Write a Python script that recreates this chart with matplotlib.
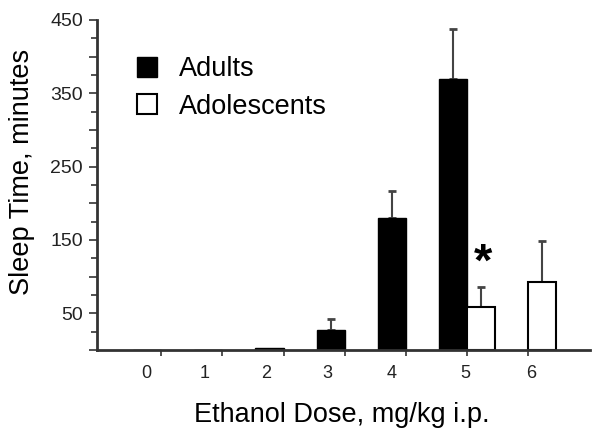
import numpy as np
import matplotlib
matplotlib.use("Agg")
import matplotlib.pyplot as plt
from matplotlib.ticker import MultipleLocator, FuncFormatter

plt.rcParams['font.family'] = ['Liberation Sans', 'DejaVu Sans']

# data
doses = [0, 1, 2, 3, 4, 5, 6]
adults = [0, 0, 3, 27, 180, 370, np.nan]
adults_err = [0, 0, 0, 15, 37, 68, 0]
adolescents = [np.nan, np.nan, np.nan, np.nan, np.nan, 59, 93]
adolescents_err = [0, 0, 0, 0, 0, 27, 56]
star_dose = 5
star_value = 118

# layout
bar_w = 0.46
label_shift = [-0.25, -0.29, -0.28, -0.28, -0.23, -0.03, 0.05]
axis_col = '#333333'

x = np.array(doses, dtype=float)
fig = plt.figure(figsize=(6.01, 4.38), dpi=100)
ax = fig.add_axes([97 / 601, 88 / 438, 493 / 601, 330 / 438])

ax.bar(x - bar_w / 2, adults, bar_w, color='black', edgecolor='black',
       linewidth=1, label='Adults', zorder=2)
ax.bar(x + bar_w / 2, adolescents, bar_w, color='white', edgecolor='black',
       linewidth=1.5, label='Adolescents', zorder=2)

a_err = np.array(adults_err, dtype=float)
b_err = np.array(adolescents_err, dtype=float)
ma = a_err > 0
mb = b_err > 0
ax.errorbar(x[ma] - bar_w / 2, np.array(adults)[ma],
            yerr=[np.zeros(ma.sum()), a_err[ma]], fmt='none',
            ecolor='#444444', elinewidth=1.5, capsize=3, capthick=2, zorder=1)
ax.errorbar(x[mb] + bar_w / 2, np.array(adolescents)[mb],
            yerr=[np.zeros(mb.sum()), b_err[mb]], fmt='none',
            ecolor='#444444', elinewidth=1.5, capsize=3, capthick=2, zorder=1)

ax.text(star_dose + bar_w / 2 + 0.03, star_value, '*', ha='center', va='center',
        fontsize=34, fontweight='bold', color='black')

ax.set_xlim(-1.05, 7.01)
ax.set_ylim(0, 450)

for s in ['top', 'right']:
    ax.spines[s].set_visible(False)
for s in ['left', 'bottom']:
    ax.spines[s].set_color(axis_col)
    ax.spines[s].set_linewidth(2)

# x: tick marks at doses, labels placed as in the reference
ax.set_xticks(doses)
ax.set_xticklabels([])
ax.tick_params(axis='x', which='major', direction='out', length=4, width=1.2,
               color=axis_col)
ax.set_xticks(x + np.array(label_shift), minor=True)
ax.set_xticklabels([str(d) for d in doses], minor=True)
ax.tick_params(axis='x', which='minor', length=0, pad=11, labelsize=13,
               labelcolor='#222222')

# y ticks
ax.yaxis.set_major_locator(MultipleLocator(50))
ax.yaxis.set_minor_locator(MultipleLocator(25))
ax.yaxis.set_major_formatter(FuncFormatter(
    lambda v, p: f'{int(v)}' if int(v) % 100 == 50 else ''))
ax.tick_params(axis='y', which='major', direction='out', length=6, width=1.2,
               color=axis_col, labelsize=14, labelcolor='#222222', pad=4)
ax.tick_params(axis='y', which='minor', direction='out', length=4, width=1.2,
               color=axis_col)

ax.set_xlabel('Ethanol Dose, mg/kg i.p.', fontsize=19.5)
ax.set_ylabel('Sleep Time, minutes', fontsize=19.5)
ax.xaxis.set_label_coords(0.497, -0.197)
ax.yaxis.set_label_coords(-0.152, 0.539)
ax.xaxis.label.set_va('center')
ax.yaxis.label.set_va('center')

ax.legend(loc='upper left', bbox_to_anchor=(0.081, 0.89), frameon=False,
          fontsize=19.5, handlelength=0.75, handleheight=0.75,
          handletextpad=0.8, labelspacing=0.42, borderpad=0, borderaxespad=0)

fig.savefig('out.png', dpi=100)
